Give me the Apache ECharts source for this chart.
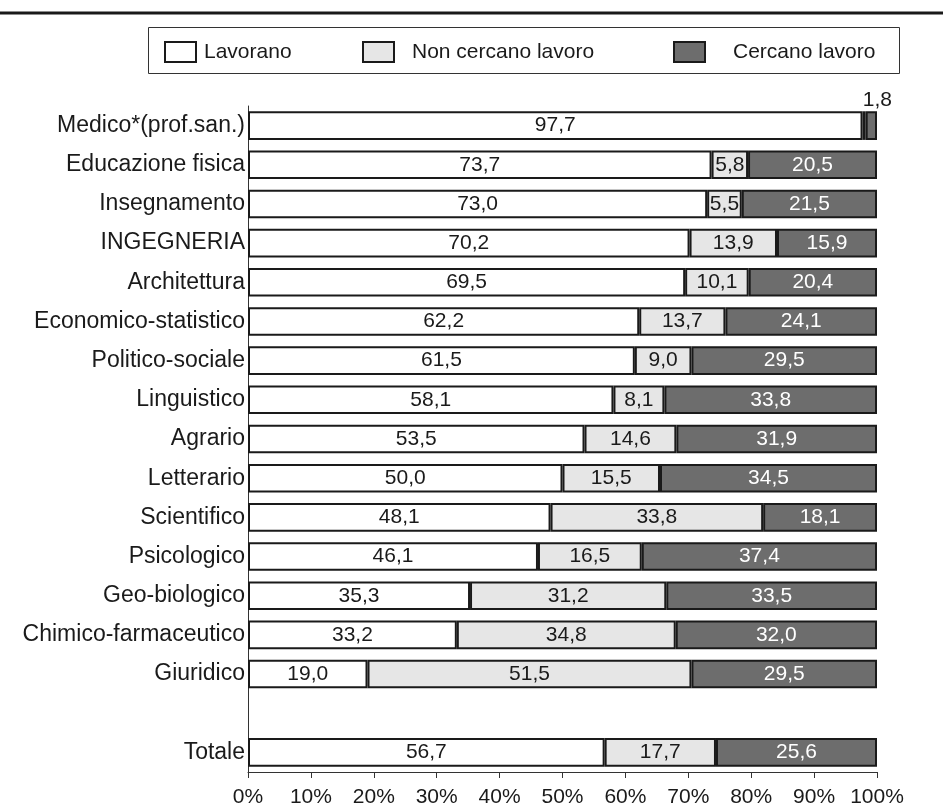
<!DOCTYPE html>
<html>
<head>
<meta charset="utf-8">
<script src="https://cdn.jsdelivr.net/npm/echarts@6/dist/echarts.min.js"></script>
<style>html,body{margin:0;padding:0;background:#fff}#c{width:943px;height:810px}</style>
</head>
<body>
<div id="c"></div>
<script>
var categories = ['Medico*(prof.san.)','Educazione fisica','Insegnamento','INGEGNERIA','Architettura','Economico-statistico','Politico-sociale','Linguistico','Agrario','Letterario','Scientifico','Psicologico','Geo-biologico','Chimico-farmaceutico','Giuridico','','Totale'];
var lavorano =     [97.7,73.7,73.0,70.2,69.5,62.2,61.5,58.1,53.5,50.0,48.1,46.1,35.3,33.2,19.0,null,56.7];
var nonCercano =   [0.5, 5.8, 5.5,13.9,10.1,13.7, 9.0, 8.1,14.6,15.5,33.8,16.5,31.2,34.8,51.5,null,17.7];
var cercano =      [1.8,20.5,21.5,15.9,20.4,24.1,29.5,33.8,31.9,34.5,18.1,37.4,33.5,32.0,29.5,null,25.6];
var xTicks = [0,10,20,30,40,50,60,70,80,90,100];
var seriesNames = ['Lavorano','Non cercano lavoro','Cercano lavoro'];

var FONT = 'Liberation Sans, Arial, sans-serif';
var TXT = '#1a1a1a';
function fmt(v){ return v == null ? '' : Number(v).toFixed(1).replace('.', ','); }

function mk(name, arr, color, labelColor, special){
  return {
    name: name, type: 'bar', stack: 'tot', barWidth: '73%',
    itemStyle: { color: color, borderColor: '#1a1a1a', borderWidth: 2 },
    label: { show: true, position: 'inside', color: labelColor, fontSize: 21, fontFamily: FONT,
      formatter: function(p){ return fmt(p.value); } },
    data: arr.map(function(v, i){
      if (special && special[i]) return Object.assign({ value: v }, special[i]);
      return v;
    })
  };
}

var chart = echarts.init(document.getElementById('c'), null, { renderer: 'canvas' });
chart.setOption({
  animation: false,
  backgroundColor: '#fff',
  textStyle: { fontFamily: FONT },
  grid: { left: 248, right: 66, top: 106, bottom: 38, containLabel: false },
  graphic: [
    { type: 'line', shape: { x1: 0, y1: 13, x2: 943, y2: 13 }, style: { stroke: '#1a1a1a', lineWidth: 3 } },
    { type: 'rect', shape: { x: 148.5, y: 27.5, width: 751, height: 46 }, style: { fill: 'none', stroke: '#333', lineWidth: 1 } }
  ],
  legend: [
    { data: [seriesNames[0]], left: 164, top: 41, padding: 0, icon: 'rect', itemWidth: 31, itemHeight: 20,
      textStyle: { fontSize: 21, color: TXT, fontFamily: FONT, padding: [0,0,0,3] } },
    { data: [seriesNames[1]], left: 362, top: 41, padding: 0, icon: 'rect', itemWidth: 31, itemHeight: 20,
      textStyle: { fontSize: 21, color: TXT, fontFamily: FONT, padding: [0,0,0,13] } },
    { data: [seriesNames[2]], left: 673, top: 41, padding: 0, icon: 'rect', itemWidth: 31, itemHeight: 20,
      textStyle: { fontSize: 21, color: TXT, fontFamily: FONT, padding: [0,0,0,23] } }
  ],
  xAxis: {
    type: 'value', min: 0, max: 100, interval: 10,
    axisLine: { show: true, lineStyle: { color: '#333', width: 1 } },
    axisTick: { show: true, length: 6, lineStyle: { color: '#333' } },
    splitLine: { show: false },
    axisLabel: { fontSize: 21, color: TXT, fontFamily: FONT, margin: 15,
      formatter: function(v){ return xTicks.indexOf(v) >= 0 ? v + '%' : ''; } }
  },
  yAxis: {
    type: 'category', data: categories, inverse: true,
    axisLine: { show: true, lineStyle: { color: '#333', width: 1 } },
    axisTick: { show: false },
    axisLabel: { fontSize: 23, color: TXT, fontFamily: FONT, margin: 3 }
  },
  series: [
    mk(seriesNames[0], lavorano, '#ffffff', TXT),
    mk(seriesNames[1], nonCercano, '#e6e6e6', TXT, { 0: { label: { show: false } } }),
    mk(seriesNames[2], cercano, '#6d6d6d', '#ffffff', { 0: { label: { show: true, position: 'top', color: TXT, offset: [6, 4] } } })
  ]
});
</script>
</body>
</html>
